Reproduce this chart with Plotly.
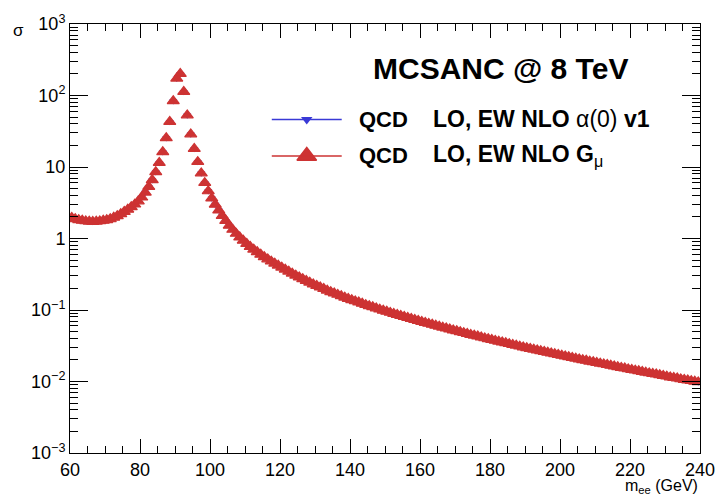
import numpy as np
import plotly.graph_objects as go

# 1 GeV bins in the dielectron invariant mass, 60-240 GeV
mass_edges = np.arange(60, 241, 1)
mass = (mass_edges[:-1] + mass_edges[1:]) / 2

# Differential cross section per bin (QCD LO, EW NLO, G_mu scheme)
sigma_gmu = [
    1.95, 1.88, 1.82, 1.78, 1.75, 1.73, 1.72, 1.73, 1.75, 1.78,      # 60-70
    1.82, 1.88, 1.96, 2.06, 2.20, 2.36, 2.54, 2.75, 3.00, 3.32,      # 70-80
    3.76, 4.40, 5.30, 6.60, 8.50, 11.5, 16.2, 25.4, 43.0, 84.0,      # 80-90
    173.0, 202.0, 113.0, 53.0, 28.8, 18.0, 11.8, 8.2, 6.0, 4.6,      # 90-100
    3.65, 2.98, 2.48, 2.08, 1.77, 1.52, 1.33, 1.17, 1.04, 0.935,     # 100-110
    0.845, 0.768, 0.703, 0.646, 0.597, 0.553, 0.514, 0.479, 0.448, 0.420,  # 110-120
    0.394, 0.369, 0.346, 0.325, 0.304, 0.287, 0.272, 0.257, 0.243, 0.229,  # 120-130
    0.218, 0.208, 0.198, 0.188, 0.179, 0.171, 0.164, 0.157, 0.150, 0.144,  # 130-140
    0.138, 0.133, 0.128, 0.123, 0.118, 0.114, 0.110, 0.106, 0.102, 0.0984,  # 140-150
    0.0951, 0.0919, 0.0888, 0.0859, 0.0830, 0.0804, 0.0778, 0.0754, 0.0730, 0.0707,  # 150-160
    0.0686, 0.0665, 0.0645, 0.0626, 0.0607, 0.0589, 0.0571, 0.0554, 0.0537, 0.0521,  # 160-170
    0.0507, 0.0492, 0.0479, 0.0465, 0.0452, 0.0440, 0.0428, 0.0416, 0.0404, 0.0393,  # 170-180
    0.0383, 0.0373, 0.0363, 0.0354, 0.0345, 0.0336, 0.0327, 0.0319, 0.0310, 0.0302,  # 180-190
    0.0295, 0.0288, 0.0281, 0.0274, 0.0267, 0.0261, 0.0254, 0.0248, 0.0242, 0.0236,  # 190-200
    0.0231, 0.0225, 0.0220, 0.0215, 0.0210, 0.0205, 0.0200, 0.0196, 0.0191, 0.0187,  # 200-210
    0.0183, 0.0179, 0.0175, 0.0171, 0.0167, 0.0163, 0.0160, 0.0156, 0.0153, 0.0149,  # 210-220
    0.0146, 0.0143, 0.0140, 0.0137, 0.0134, 0.0131, 0.0128, 0.0126, 0.0123, 0.0120,  # 220-230
    0.0118, 0.0115, 0.0113, 0.0111, 0.0108, 0.0106, 0.0104, 0.0102, 0.0100, 0.0098,  # 230-240
]
# alpha(0) v1 scheme coincides with G_mu on this scale
sigma_alpha0 = list(sigma_gmu)

y_tick_vals = [1e-3, 1e-2, 1e-1, 1, 10, 1e2, 1e3]
y_tick_text = ["10<sup>−3</sup>", "10<sup>−2</sup>", "10<sup>−1</sup>", "1", "10",
               "10<sup>2</sup>", "10<sup>3</sup>"]
y_minor_vals = [k * 10.0 ** e for e in range(-3, 3) for k in range(2, 10)]

BLUE = "#3a3ad6"
RED = "#cd3333"
FONT = "Liberation Sans, Arial, Helvetica, sans-serif"

fig = go.Figure()

fig.add_trace(go.Scatter(
    x=mass, y=sigma_alpha0, mode="markers",
    marker=dict(symbol="triangle-down", size=7, color=BLUE),
    showlegend=False,
))
fig.add_trace(go.Scatter(
    x=mass, y=sigma_gmu, mode="markers",
    marker=dict(symbol="triangle-up", size=10.5, color=RED,
                line=dict(color=RED, width=1.2)),
    showlegend=False,
))

# Hand-placed legend: lines as shapes, markers on an overlay [0,1] axis pair
leg_x0, leg_x1, leg_xm = 0.3203, 0.4313, 0.3758
row1, row2 = 0.7775, 0.6925

fig.add_trace(go.Scatter(
    x=[leg_xm], y=[row1], xaxis="x2", yaxis="y2", mode="markers",
    marker=dict(symbol="triangle-down", size=10, color=BLUE),
    showlegend=False, cliponaxis=False, hoverinfo="skip",
))
fig.add_trace(go.Scatter(
    x=[leg_xm], y=[row2], xaxis="x2", yaxis="y2", mode="markers",
    marker=dict(symbol="triangle-up", size=17, color=RED,
                line=dict(color=RED, width=1.5)),
    showlegend=False, cliponaxis=False, hoverinfo="skip",
))

shapes = [
    dict(type="line", xref="paper", yref="paper", x0=leg_x0, x1=leg_x1,
         y0=row1, y1=row1, line=dict(color=BLUE, width=1.5)),
    dict(type="line", xref="paper", yref="paper", x0=leg_x0, x1=leg_x1,
         y0=row2, y1=row2, line=dict(color=RED, width=1.5)),
]

annotations = [
    dict(text="<b>MCSANC @ 8 TeV</b>", x=0.6828, y=0.897, xref="paper", yref="paper",
         xanchor="center", yanchor="middle", showarrow=False,
         font=dict(size=30, color="black", family=FONT)),
    dict(text="<b>QCD</b>", x=0.45625, y=row1, xref="paper", yref="paper",
         xanchor="left", yanchor="middle", showarrow=False,
         font=dict(size=22, color="black", family=FONT)),
    dict(text="<b>LO, EW NLO</b> α(0) <b>v1</b>", x=0.5734, y=row1, xref="paper", yref="paper",
         xanchor="left", yanchor="middle", showarrow=False,
         font=dict(size=23, color="black", family=FONT)),
    dict(text="<b>QCD</b>", x=0.45625, y=row2, xref="paper", yref="paper",
         xanchor="left", yanchor="middle", showarrow=False,
         font=dict(size=22, color="black", family=FONT)),
    dict(text="<b>LO, EW NLO G</b><sub>μ</sub>", x=0.5734, y=row2, xref="paper", yref="paper",
         xanchor="left", yanchor="middle", showarrow=False,
         font=dict(size=23, color="black", family=FONT)),
    dict(text="σ", x=-0.082, y=0.986, xref="paper", yref="paper",
         xanchor="center", yanchor="middle", showarrow=False,
         font=dict(size=17, color="black", family=FONT)),
    dict(text="m<sub>ee</sub> (GeV)", x=1.0, y=-0.079, xref="paper", yref="paper",
         xanchor="right", yanchor="middle", showarrow=False,
         font=dict(size=16, color="black", family=FONT)),
]

axis_common = dict(
    showline=True, linecolor="black", linewidth=1, mirror="allticks",
    ticks="inside", tickcolor="black", tickwidth=1,
    showgrid=False, zeroline=False,
    tickfont=dict(size=18, color="black", family=FONT),
)

fig.update_layout(
    width=727, height=495,
    margin=dict(l=70, r=17, t=14, b=42),
    paper_bgcolor="white", plot_bgcolor="white",
    font=dict(family=FONT, color="black"),
    showlegend=False,
    xaxis=dict(
        range=[60, 240], tickmode="linear", tick0=60, dtick=20, ticklen=14,
        minor=dict(ticks="inside", ticklen=7, dtick=5, tick0=60, tickcolor="black",
                   tickwidth=1, showgrid=False),
        **axis_common,
    ),
    yaxis=dict(
        type="log", range=[-3, 3], tickmode="array", tickvals=y_tick_vals,
        ticktext=y_tick_text, ticklen=18,
        minor=dict(ticks="inside", ticklen=8, tickmode="array", tickvals=y_minor_vals,
                   tickcolor="black", tickwidth=1, showgrid=False),
        **axis_common,
    ),
    xaxis2=dict(range=[0, 1], overlaying="x", anchor="y2", visible=False),
    yaxis2=dict(range=[0, 1], overlaying="y", anchor="x2", visible=False),
    shapes=shapes,
    annotations=annotations,
)

fig.write_html("out.html")
